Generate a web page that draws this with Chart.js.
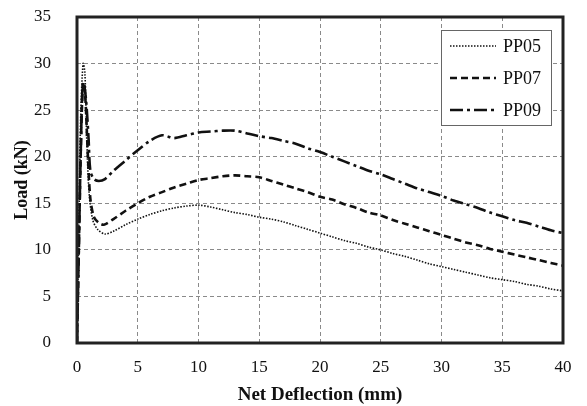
<!DOCTYPE html>
<html>
<head>
<meta charset="utf-8">
<script src="https://cdn.jsdelivr.net/npm/chart.js@4.4.0/dist/chart.umd.min.js"></script>
<style>
  html, body { margin: 0; padding: 0; background: #fff; }
  #wrap { width: 587px; height: 406px; }
</style>
</head>
<body>
<div id="wrap"><canvas id="chart" width="587" height="406"></canvas></div>
<script>
// DATA (net deflection mm -> load kN)
const seriesNames = ["PP05", "PP07", "PP09"];

const pp05X = [0, 0.15, 0.3, 0.5, 0.65, 0.8, 1.0, 1.3, 1.7, 2.3, 3, 4, 5, 6, 7, 8, 9, 10, 11, 12, 13, 14, 15, 16, 17, 18, 19, 20, 21, 22, 23, 24, 25, 26, 27, 28, 29, 30, 31, 32, 33, 34, 35, 36, 37, 38, 39, 40];
const pp05Y = [0, 12, 24, 30, 29, 22, 16, 13.2, 12.2, 11.7, 12.0, 12.7, 13.3, 13.8, 14.2, 14.5, 14.7, 14.8, 14.6, 14.3, 14.0, 13.8, 13.5, 13.3, 13.0, 12.6, 12.2, 11.8, 11.4, 11.0, 10.7, 10.3, 10.0, 9.6, 9.3, 8.9, 8.5, 8.2, 7.9, 7.6, 7.3, 7.0, 6.8, 6.6, 6.3, 6.1, 5.8, 5.6];

const pp07X = [0, 0.15, 0.3, 0.45, 0.55, 0.7, 0.9, 1.1, 1.4, 1.8, 2.2, 3, 4, 5, 6, 7, 8, 9, 10, 11, 12, 13, 14, 15, 16, 17, 18, 19, 20, 21, 22, 23, 24, 25, 26, 27, 28, 29, 30, 31, 32, 33, 34, 35, 36, 37, 38, 39, 40];
const pp07Y = [0, 10, 20, 27, 28, 26, 20, 15.5, 13.5, 12.9, 12.7, 13.3, 14.2, 15.0, 15.7, 16.2, 16.7, 17.1, 17.5, 17.7, 17.9, 18.0, 17.9, 17.8, 17.4, 17.0, 16.6, 16.2, 15.7, 15.4, 14.9, 14.5, 14.0, 13.7, 13.2, 12.8, 12.4, 12.0, 11.6, 11.2, 10.8, 10.5, 10.1, 9.8, 9.5, 9.2, 8.9, 8.6, 8.3];

const pp09X = [0, 0.15, 0.3, 0.45, 0.55, 0.75, 0.95, 1.1, 1.4, 1.8, 2.3, 3, 4, 5, 6, 7, 8, 9, 10, 11, 12, 13, 14, 15, 16, 17, 18, 19, 20, 21, 22, 23, 24, 25, 26, 27, 28, 29, 30, 31, 32, 33, 34, 35, 36, 37, 38, 39, 40];
const pp09Y = [0, 10, 20, 27.5, 28, 26, 22, 18.5, 17.6, 17.4, 17.6, 18.5, 19.6, 20.7, 21.7, 22.3, 22.0, 22.3, 22.6, 22.7, 22.8, 22.8, 22.5, 22.2, 22.0, 21.7, 21.4, 20.9, 20.5, 20.0, 19.5, 19.0, 18.5, 18.1, 17.6, 17.1, 16.6, 16.2, 15.8, 15.3, 14.9, 14.5, 14.0, 13.6, 13.2, 12.9, 12.5, 12.1, 11.8];

const xTicks = [0, 5, 10, 15, 20, 25, 30, 35, 40];
const yTicks = [0, 5, 10, 15, 20, 25, 30, 35];

const xTitle = "Net Deflection (mm)";
const yTitle = "Load (kN)";

const toPoints = (xs, ys) => xs.map((x, i) => ({ x: x, y: ys[i] }));

const styles = [
    { width: 1.6, dash: [1.5, 1.5] },
    { width: 2.6, dash: [7, 4] },
    { width: 2.6, dash: [13, 4, 3, 4] }
];
const allX = [pp05X, pp07X, pp09X];
const allY = [pp05Y, pp07Y, pp09Y];

const SERIF = "'Liberation Serif', 'Times New Roman', serif";

// frame + legend box drawn on top
const framePlugin = {
    id: "frame",
    afterDraw(chart) {
        const { ctx, chartArea: a } = chart;
        ctx.save();
        ctx.strokeStyle = "#222";
        ctx.lineWidth = 3;
        ctx.setLineDash([]);
        ctx.strokeRect(a.left, a.top, a.right - a.left, a.bottom - a.top);

        // legend
        const bx = a.left + 364, by = a.top + 13, bw = 110, bh = 95;
        ctx.fillStyle = "#fff";
        ctx.fillRect(bx, by, bw, bh);
        ctx.strokeStyle = "#666";
        ctx.lineWidth = 1;
        ctx.strokeRect(bx + 0.5, by + 0.5, bw, bh);
        ctx.font = "18px " + SERIF;
        ctx.textBaseline = "middle";
        ctx.fillStyle = "#111";
        seriesNames.forEach((name, i) => {
            const yy = by + 16 + i * 32;
            ctx.strokeStyle = "#111";
            ctx.lineWidth = styles[i].width;
            ctx.setLineDash(styles[i].dash);
            ctx.beginPath();
            ctx.moveTo(bx + 9, yy);
            ctx.lineTo(bx + 55, yy);
            ctx.stroke();
            ctx.setLineDash([]);
            ctx.fillText(name, bx + 62, yy + 1);
        });
        ctx.restore();
    }
};

new Chart(document.getElementById("chart"), {
    type: "line",
    data: {
        datasets: seriesNames.map((name, i) => ({
            label: name,
            data: toPoints(allX[i], allY[i]),
            borderColor: "#111",
            borderWidth: styles[i].width,
            borderDash: styles[i].dash,
            pointRadius: 0,
            tension: 0.3,
            fill: false
        }))
    },
    options: {
        responsive: false,
        animation: false,
        layout: { padding: { top: 17, right: 24, left: 0, bottom: 0 } },
        plugins: { legend: { display: false }, tooltip: { enabled: false } },
        scales: {
            x: {
                type: "linear",
                min: 0, max: 40,
                afterBuildTicks: s => { s.ticks = xTicks.map(v => ({ value: v })); },
                afterFit: s => { s.height = 63; s.paddingLeft = 0; s.paddingRight = 0; },
                grid: { color: "#8a8a8a", lineWidth: 1, drawTicks: false },
                border: { display: false, dash: [4, 3] },
                ticks: { padding: 14, color: "#111", font: { family: SERIF, size: 17 } },
                title: {
                    display: true, text: xTitle, color: "#111",
                    font: { family: SERIF, size: 19, weight: "bold" },
                    padding: { top: 4, bottom: 0 }
                }
            },
            y: {
                type: "linear",
                min: 0, max: 35,
                afterBuildTicks: s => { s.ticks = yTicks.map(v => ({ value: v })); },
                afterFit: s => { s.width = 77; s.paddingTop = 0; s.paddingBottom = 0; },
                grid: { color: "#8a8a8a", lineWidth: 1, drawTicks: false },
                border: { display: false, dash: [4, 3] },
                ticks: { padding: 26, color: "#111", font: { family: SERIF, size: 17 } },
                title: {
                    display: true, text: yTitle, color: "#111",
                    font: { family: SERIF, size: 18, weight: "bold" },
                    padding: { top: 12, bottom: 0 }
                }
            }
        }
    },
    plugins: [framePlugin]
});
</script>
</body>
</html>
